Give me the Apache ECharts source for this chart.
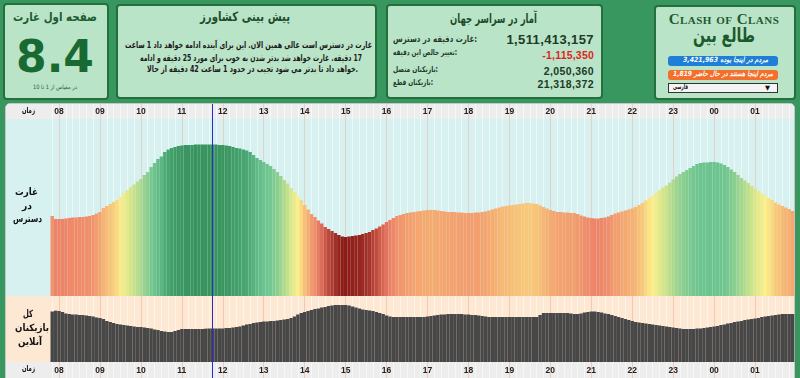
<!DOCTYPE html>
<html>
<head>
<meta charset="utf-8">
<script src="https://cdn.jsdelivr.net/npm/echarts@6/dist/echarts.min.js"></script>
<style>
  body { margin: 0; width: 800px; height: 378px; overflow: hidden; position: relative;
         background: #38975e; font-family: "DejaVu Sans", sans-serif; }
  .box { position: absolute; box-sizing: border-box; background: #bae4c8;
         border: 2px solid #24703d; border-radius: 4px; }
  .t { position: absolute; white-space: nowrap; line-height: 1; font-weight: bold; transform-origin: 0 50%; }
  .c { text-align: center; }
  .strip { position: absolute; left: 6px; width: 788px; }
  #chart { position: absolute; left: 0; top: 0; width: 800px; height: 378px; z-index: 2; }
  .lbl { z-index: 3; color: #111; font-size: 10px; }
  .pill { position: absolute; left: 668px; width: 110px; height: 10px; border-radius: 3px; }
  .pt { color: #fff; font-size: 7px; font-style: italic; z-index: 1; }
</style>
</head>
<body>
<!-- top panels -->
<div class="box" style="left:3px;top:3px;width:106px;height:97px"></div>
<div class="t fit" data-w="84" style="left:13px;top:10.8px;font-size:12px;color:#1c5c30">صفحه اول غارت</div>
<div class="t c" style="left:3px;width:104px;top:35px;font-size:44px;color:#186a32">8.4</div>
<div class="t fit" dir="rtl" data-w="44" style="left:33px;top:84.4px;font-size:6px;font-weight:normal;color:#2c5a3a">در مقیاس از 1 تا 10</div>

<div class="box" style="left:116px;top:4px;width:261px;height:95px"></div>
<div class="t fit" data-w="90" style="left:200px;top:10.2px;font-size:13px;color:#1e4d2b">پیش بینی کشاورز</div>
<div class="t fit" data-w="247" style="left:125px;top:41.3px;font-size:9px;color:#1a1a1a">غارت در دسترس است عالی همین الان. این برای آینده ادامه خواهد داد 1 ساعت</div>
<div class="t fit" dir="rtl" data-w="222" style="left:140px;top:53.9px;font-size:9px;color:#1a1a1a">17 دقیقه. غارت خواهد شد بدتر شدن به خوب برای مورد 25 دقیقه و ادامه</div>
<div class="t fit" data-w="211" style="left:147px;top:65.3px;font-size:9px;color:#1a1a1a">خواهد داد تا بدتر می شود تجیب در حدود 1 ساعت 42 دقیقه از حالا.</div>

<div class="box" style="left:386px;top:4px;width:217px;height:95px"></div>
<div class="t fit" data-w="87" style="left:450px;top:12.2px;font-size:13px;color:#1e4d2b">آمار در سراسر جهان</div>
<div class="t fit" data-w="84" style="left:393px;top:34.6px;font-size:9px;color:#1e3a28">غارت دقیقه در دسترس:</div>
<div class="t" style="right:206px;top:32.8px;font-size:13px;letter-spacing:0.4px;color:#1b3a27;font-family:'Liberation Sans'">1,511,413,157</div>
<div class="t fit" data-w="64" style="left:393px;top:49.2px;font-size:8px;color:#1e3a28">تغییر خالص این دقیقه:</div>
<div class="t" style="right:206px;top:49.7px;font-size:10.5px;letter-spacing:0.2px;color:#e01e1e;font-family:'Liberation Sans'">-1,115,350</div>
<div class="t fit" data-w="45" style="left:393px;top:66.2px;font-size:8px;color:#1e3a28">بازیکنان متصل:</div>
<div class="t" style="right:206px;top:65.7px;font-size:10.5px;letter-spacing:0.4px;color:#1b3a27;font-family:'Liberation Sans'">2,050,360</div>
<div class="t fit" data-w="40" style="left:393px;top:78.5px;font-size:8px;color:#1e3a28">بازیکنان قطع:</div>
<div class="t" style="right:206px;top:78.7px;font-size:10.5px;letter-spacing:0.4px;color:#1b3a27;font-family:'Liberation Sans'">21,318,372</div>

<div class="box" style="left:654px;top:5px;width:142px;height:95px"></div>
<div class="t c" style="left:654px;width:140px;top:12px;font-size:15px;font-variant:small-caps;letter-spacing:0.5px;color:#1c5a2e;font-family:'Liberation Serif'">Clash of Clans</div>
<div class="t fit" data-w="62" style="left:693px;top:24.7px;font-size:20px;color:#1c5a2e">طالع بین</div>
<div class="pill" style="top:56px;background:#1f7fd6"></div>
<div class="t fit pt" data-w="85" style="left:683px;top:56.8px">مردم در اینجا بوده 3,421,963</div>
<div class="pill" style="top:70px;background:#f36f2b"></div>
<div class="t fit pt" data-w="100" style="left:673px;top:70.8px">مردم اینجا هستند در حال حاضر 1,819</div>
<div style="position:absolute;left:668px;top:83px;width:110px;height:10px;box-sizing:border-box;background:#f4f4f4;border:1px solid #333"></div>
<div class="t fit" data-w="15" style="left:673px;top:83.8px;font-size:7px;color:#111">فارسی</div>
<div class="t" style="left:765px;top:84.5px;font-size:6.5px;color:#111">▼</div>

<!-- chart panel backgrounds -->
<div style="position:absolute;left:5px;top:103px;width:790px;height:290px;box-sizing:border-box;background:#fff;border:1px solid #c6c6c6;border-radius:5px 5px 0 0"></div>
<div class="strip" style="top:104px;height:15px;background:#ededed;border-radius:4px 4px 0 0"></div>
<div class="strip" style="top:119px;height:177px;background:#d7f0f0"></div>
<div class="strip" style="top:296px;height:66px;background:#fde8d4"></div>
<div class="strip" style="top:362px;height:16px;background:#ededed"></div>

<div class="t fit lbl" data-w="13" style="left:22px;top:107.2px;font-size:8px">زمان</div>
<div class="t fit lbl" data-w="23" style="left:15px;top:187px">غارت</div>
<div class="t fit lbl" data-w="10" style="left:22px;top:201px">در</div>
<div class="t fit lbl" data-w="29" style="left:13px;top:214px">دسترس</div>
<div class="t fit lbl" data-w="10" style="left:23px;top:309px">کل</div>
<div class="t fit lbl" data-w="34" style="left:15px;top:323px">بازیکنان</div>
<div class="t fit lbl" data-w="24" style="left:18px;top:337px">آنلاین</div>
<div class="t fit lbl" data-w="13" style="left:22px;top:365.2px;font-size:8px">زمان</div>

<div id="chart"></div>

<script>
// squeeze each text line to the width it has in the source page
document.querySelectorAll('.fit').forEach(el => {
    const natural = el.getBoundingClientRect().width;
    el.style.transform = 'scaleX(' + (Number(el.dataset.w) / natural) + ')';
});

const leadSlots = ['07:50', '07:55'];
const hourLabels = ['08', '09', '10', '11', '12', '13', '14', '15', '16', '17', '18', '19', '20', '21', '22', '23', '00', '01'];
const minuteMarks = ['00', '05', '10', '15', '20', '25', '30', '35', '40', '45', '50', '55'];
const nowSlot = '11:45';

// loot available, millions (5 minute steps)
const lootValues = [
    800, 770,
    770, 770, 775, 780, 785, 785, 790, 790, 795, 800, 810, 825,
    840, 880, 900, 920, 940, 960, 990, 1030, 1060, 1090, 1115, 1145,
    1170, 1210, 1240, 1290, 1330, 1370, 1395, 1440, 1465, 1480, 1490, 1500,
    1505, 1510, 1510, 1510, 1515, 1515, 1515, 1515, 1515, 1515, 1515, 1510,
    1510, 1505, 1500, 1490, 1480, 1475, 1465, 1455, 1440, 1410, 1380, 1360,
    1340, 1320, 1300, 1270, 1240, 1200, 1160, 1125, 1080, 1040, 1000, 960,
    910, 865, 820, 790, 755, 725, 690, 670, 650, 630, 610, 595,
    590, 595, 600, 605, 610, 620, 630, 640, 660, 675, 695, 715,
    740, 760, 780, 800, 810, 820, 830, 835, 840, 845, 850, 855,
    860, 860, 860, 855, 850, 845, 840, 840, 840, 835, 835, 830,
    830, 830, 835, 835, 840, 845, 855, 865, 875, 885, 895, 900,
    905, 910, 915, 920, 925, 930, 930, 925, 920, 905, 890, 875,
    860, 850, 840, 840, 835, 835, 830, 830, 820, 805, 795, 785,
    780, 775, 775, 780, 785, 795, 810, 825, 835, 845, 855, 865,
    875, 890, 910, 930, 955, 980, 1005, 1030, 1060, 1085, 1105, 1135,
    1165, 1195, 1220, 1240, 1260, 1280, 1300, 1320, 1330, 1335, 1335, 1340,
    1340, 1335, 1325, 1310, 1290, 1265, 1240, 1210, 1180, 1155, 1130, 1100,
    1075, 1050, 1025, 1005, 980, 960, 935, 915, 900, 885, 870, 850
];

// players online, thousands
const onlineValues = [
    3030, 3080,
    3060, 3000, 2910, 2880, 2850, 2850, 2820, 2820, 2790, 2760, 2730, 2670,
    2640, 2580, 2460, 2400, 2340, 2280, 2250, 2220, 2190, 2160, 2130, 2100,
    2100, 2070, 2040, 2010, 1950, 1920, 1860, 1830, 1800, 1800, 1860, 1920,
    1980, 1980, 1980, 1980, 1980, 1980, 1980, 2000, 2010, 2010, 2010, 2010,
    2010, 2040, 2040, 2070, 2100, 2130, 2190, 2250, 2280, 2340, 2370, 2400,
    2430, 2430, 2460, 2460, 2490, 2520, 2550, 2580, 2640, 2730, 2850, 2940,
    3000, 3060, 3120, 3180, 3210, 3270, 3300, 3360, 3390, 3420, 3420, 3420,
    3420, 3390, 3330, 3270, 3210, 3150, 3120, 3090, 3060, 3000, 2940, 2880,
    2790, 2730, 2700, 2700, 2700, 2700, 2700, 2700, 2700, 2700, 2700, 2700,
    2730, 2760, 2790, 2820, 2850, 2850, 2880, 2880, 2880, 2880, 2880, 2850,
    2850, 2820, 2820, 2790, 2760, 2730, 2700, 2700, 2700, 2700, 2700, 2700,
    2700, 2700, 2700, 2700, 2700, 2700, 2700, 2700, 2700, 2820, 2940, 2940,
    2940, 2940, 2940, 2940, 2940, 2940, 2910, 2880, 2880, 2910, 2970, 3000,
    3030, 3030, 3000, 2970, 2910, 2880, 2820, 2760, 2700, 2640, 2580, 2520,
    2460, 2400, 2370, 2340, 2310, 2280, 2250, 2220, 2190, 2160, 2130, 2100,
    2070, 2040, 2010, 1980, 1980, 1980, 1980, 2010, 2010, 2040, 2070, 2100,
    2130, 2160, 2220, 2250, 2310, 2340, 2400, 2430, 2460, 2520, 2550, 2580,
    2610, 2640, 2700, 2730, 2760, 2790, 2820, 2850, 2880, 2880, 2880, 2880
];

const slots = leadSlots.concat(...hourLabels.map(h => minuteMarks.map(m => h + ':' + m)));

// colour of a loot column: red (poor) -> yellow -> green (great)
const lootColorStops = [
    [590, '#8c1b17'], [640, '#a8352c'], [700, '#d25c4b'], [760, '#ec7e65'],
    [800, '#f1916c'], [850, '#f5a76f'], [900, '#f7bb75'], [940, '#f9cd7a'],
    [1000, '#fcef89'], [1060, '#e4e98a'], [1130, '#c0df8b'], [1220, '#92d190'],
    [1300, '#74c790'], [1340, '#6cc38e'], [1430, '#52af7b'], [1480, '#43a06b'], [1520, '#38915d']
];

const hexRgb = h => [1, 3, 5].map(i => parseInt(h.slice(i, i + 2), 16));
const lootColor = v => {
    const s = lootColorStops;
    if (v <= s[0][0]) return s[0][1];
    for (let i = 1; i < s.length; i++) {
        if (v <= s[i][0]) {
            const t = (v - s[i - 1][0]) / (s[i][0] - s[i - 1][0]);
            const a = hexRgb(s[i - 1][1]), b = hexRgb(s[i][1]);
            return 'rgb(' + a.map((c, k) => Math.round(c + (b[k] - c) * t)).join(',') + ')';
        }
    }
    return s[s.length - 1][1];
};

const isHour = (i, v) => v.slice(3) === '00';
const isTen = (i, v) => ['10', '20', '30', '40', '50'].includes(v.slice(3));

const hourAxis = (gridIndex, position, lineColor) => ({
    type: 'category',
    gridIndex,
    position,
    data: slots,
    axisLine: { show: false },
    axisTick: { show: false },
    axisLabel: {
        inside: true,
        margin: 3,
        interval: isHour,
        formatter: v => v.slice(0, 2),
        fontSize: 8.5,
        fontWeight: 'bold',
        fontFamily: 'Liberation Sans',
        color: '#222'
    },
    splitLine: { show: true, interval: isHour, alignWithLabel: true, lineStyle: { color: lineColor, width: 1 } }
});

const tenMinAxis = (gridIndex, position, lineColor) => ({
    type: 'category',
    gridIndex,
    position,
    data: slots,
    axisLine: { show: false },
    axisTick: { show: false },
    axisLabel: { show: false },
    splitLine: { show: true, interval: isTen, alignWithLabel: true, lineStyle: { color: lineColor, width: 1 } }
});

const nowLine = {
    symbol: 'none',
    silent: true,
    label: { show: false },
    lineStyle: { color: '#2a2ad0', width: 1, type: 'solid' },
    data: [{ xAxis: nowSlot }]
};

const chart = echarts.init(document.getElementById('chart'));
chart.setOption({
    animation: false,
    grid: [
        { left: 50.5, width: 743.8, top: 104, height: 192 },
        { left: 50.5, width: 743.8, top: 296, height: 82 }
    ],
    xAxis: [
        hourAxis(0, 'top', 'rgba(238,170,150,0.45)'),
        tenMinAxis(0, 'top', 'rgba(255,255,255,0.55)'),
        hourAxis(1, 'bottom', 'rgba(236,160,140,0.45)'),
        tenMinAxis(1, 'bottom', 'rgba(255,255,255,0.5)')
    ],
    yAxis: [
        { type: 'value', gridIndex: 0, min: 0, max: 1920, show: false },
        { type: 'value', gridIndex: 1, min: -960, max: 3960, show: false }
    ],
    series: [
        {
            name: 'loot',
            type: 'bar',
            xAxisIndex: 0,
            yAxisIndex: 0,
            data: lootValues,
            barCategoryGap: '0%',
            itemStyle: { color: p => lootColor(p.value) },
            markLine: nowLine
        },
        {
            name: 'online',
            type: 'bar',
            xAxisIndex: 2,
            yAxisIndex: 1,
            data: onlineValues,
            barCategoryGap: '0%',
            itemStyle: { color: '#474747' },
            markLine: nowLine
        }
    ]
});
</script>
</body>
</html>
